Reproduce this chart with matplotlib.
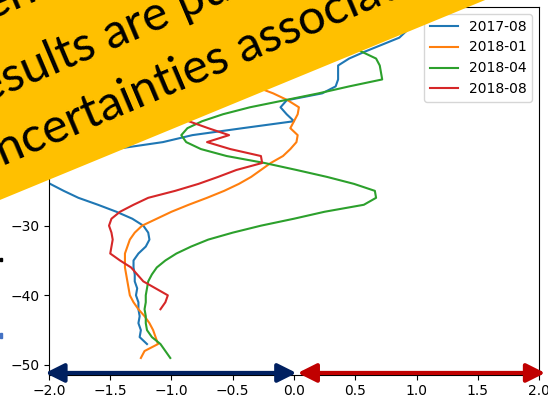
import matplotlib
matplotlib.use("Agg")
import matplotlib.pyplot as plt
from matplotlib.patches import Polygon, Rectangle

# depth profiles (m) and anomaly values for each survey
depth_1708 = [-1, -2, -3, -4, -5, -6, -7, -8, -9, -10, -11, -12, -13, -14, -15, -16, -17, -18,
              -19, -20, -21, -22, -23, -24, -25, -26, -27, -28, -29, -30, -31, -32, -33, -34,
              -35, -36, -37, -38, -39, -40, -41, -42, -43, -44, -45, -46, -47]
vals_1708 = [0.93, 0.92, 0.86, 0.72, 0.58, 0.45, 0.36, 0.36, 0.36, 0.34, 0.23, -0.06, -0.11,
             -0.06, 0.00, -0.42, -0.83, -1.07, -1.46, -1.75, -2.00, -2.15, -2.10, -1.99, -1.88,
             -1.76, -1.60, -1.45, -1.32, -1.23, -1.19, -1.18, -1.21, -1.27, -1.31, -1.31,
             -1.30, -1.30, -1.28, -1.29, -1.27, -1.27, -1.26, -1.27, -1.25, -1.26, -1.20]

depth_1801 = [-1, -2, -3, -4, -5, -6, -7, -8, -9, -10, -11, -12, -13, -14, -15, -16, -17, -18,
              -19, -20, -21, -22, -23, -24, -25, -26, -27, -28, -29, -30, -31, -32, -33, -34,
              -35, -36, -37, -38, -39, -40, -41, -42, -43, -44, -45, -46, -47, -48, -49]
vals_1801 = [0.45, 0.40, 0.35, 0.25, 0.15, 0.05, -0.05, -0.15, -0.25, -0.32, -0.17, -0.05,
             0.04, 0.03, 0.00, -0.03, 0.03, 0.02, -0.03, -0.09, -0.19, -0.27, -0.35, -0.45,
             -0.57, -0.71, -0.86, -1.00, -1.12, -1.24, -1.30, -1.34, -1.36, -1.38, -1.38,
             -1.38, -1.37, -1.36, -1.35, -1.34, -1.31, -1.27, -1.22, -1.18, -1.15, -1.13,
             -1.11, -1.22, -1.25]

depth_1804 = [-1, -2, -3, -4, -5, -6, -7, -8, -9, -10, -11, -12, -13, -14, -15, -16, -17, -18,
              -19, -20, -21, -22, -23, -24, -25, -26, -27, -28, -29, -30, -31, -32, -33, -34,
              -35, -36, -37, -38, -39, -40, -41, -42, -43, -44, -45, -46, -47, -48, -49]
vals_1804 = [0.35, 0.40, 0.45, 0.48, 0.55, 0.67, 0.70, 0.71, 0.72, 0.45, 0.20, -0.08, -0.36,
             -0.58, -0.75, -0.87, -0.92, -0.88, -0.76, -0.55, -0.24, 0.02, 0.27, 0.49, 0.66,
             0.67, 0.57, 0.25, 0.00, -0.27, -0.50, -0.70, -0.84, -0.96, -1.05, -1.12, -1.16,
             -1.19, -1.20, -1.21, -1.21, -1.22, -1.21, -1.21, -1.20, -1.16, -1.09, -1.05, -1.01]

depth_1808 = [-1, -2, -3, -4, -5, -6, -7, -8, -9, -10, -11, -12, -13, -14, -15, -16, -17, -18,
              -19, -20, -21, -22, -23, -24, -25, -26, -27, -28, -29, -30, -31, -32, -33, -34,
              -35, -36, -37, -38, -39, -40, -41, -42]
vals_1808 = [-0.20, -0.25, -0.30, -0.35, -0.40, -0.45, -0.50, -0.55, -0.60, -0.70, -0.80, -0.90,
             -0.95, -0.92, -0.86, -0.70, -0.53, -0.71, -0.52, -0.27, -0.26, -0.47, -0.62,
             -0.78, -0.97, -1.19, -1.31, -1.42, -1.49, -1.51, -1.49, -1.48, -1.49, -1.50,
             -1.42, -1.33, -1.28, -1.23, -1.13, -1.03, -1.05, -1.09]

labels = ["2017-08", "2018-01", "2018-04", "2018-08"]

banner_lines = ["Experimental measurements: these",
                "results are purely indicative and the",
                "uncertainties associated with them are large"]

fig = plt.figure(figsize=(5.48, 3.96), dpi=100)
ax = fig.add_axes([0.0894, 0.0538, 0.8942, 0.9285])

for vals, depth, lab in zip([vals_1708, vals_1801, vals_1804, vals_1808],
                            [depth_1708, depth_1801, depth_1804, depth_1808], labels):
    ax.plot(vals, depth, label=lab)

ax.set_xlim(-2, 2)
ax.legend(loc="upper right")

# sign arrows along the bottom
arrow_y = -51.15
ax.annotate("", xy=(-2.03, arrow_y), xytext=(0.02, arrow_y), annotation_clip=False,
            arrowprops=dict(arrowstyle="<|-|>,head_length=0.8,head_width=0.4", color="#002060",
                            lw=3, mutation_scale=14, shrinkA=0, shrinkB=0, clip_on=False))
ax.annotate("", xy=(0.03, arrow_y), xytext=(2.05, arrow_y), annotation_clip=False,
            arrowprops=dict(arrowstyle="<|-|>,head_length=0.8,head_width=0.4", color="#C00000",
                            lw=3, mutation_scale=14, shrinkA=0, shrinkB=0, clip_on=False))

# disclaimer banner on top, in pixel coordinates
ov = fig.add_axes([0, 0, 1, 1], zorder=10)
ov.set_xlim(0, 548)
ov.set_ylim(396, 0)
ov.axis("off")
ov.add_patch(Polygon([(-5, 202), (490, -2), (-5, -2)], closed=True, color="#FFC000", lw=0))
starts = [(-170, 89), (-31, 111), (-22, 176)]
for txt, (x0, y0) in zip(banner_lines, starts):
    ov.text(x0, y0, txt, rotation=23, rotation_mode="anchor", ha="left", va="baseline",
            fontsize=35, family="Lato", color="black")

ov.add_patch(Rectangle((0, 258), 2, 3, color="black"))
ov.add_patch(Rectangle((0, 333), 2, 5, color="#4472C4"))

fig.savefig("out.png", dpi=100)
